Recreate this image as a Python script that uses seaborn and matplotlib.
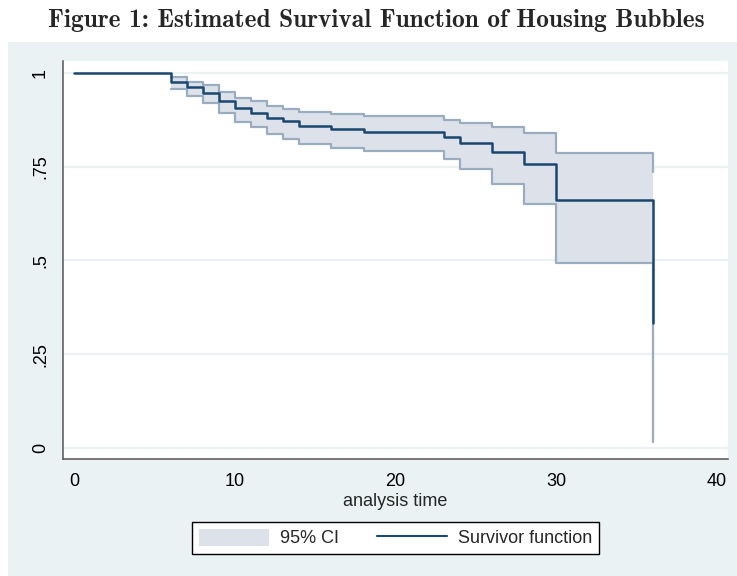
import matplotlib
matplotlib.use("Agg")
import matplotlib.pyplot as plt
import seaborn as sns
import pandas as pd
from matplotlib.patches import Rectangle, Patch
from matplotlib.lines import Line2D

# Kaplan-Meier survivor estimate (step function) and its 95% confidence band
times = [0, 6, 7, 8, 9, 10, 11, 12, 13, 14, 16, 18, 23, 24, 26, 28, 30, 36]
survival = [1.000, 0.975, 0.961, 0.947, 0.924, 0.905, 0.893, 0.879, 0.870,
            0.857, 0.850, 0.843, 0.829, 0.813, 0.789, 0.758, 0.662, 0.333]

ci_times = [6, 7, 8, 9, 10, 11, 12, 13, 14, 16, 18, 23, 24, 26, 28, 30, 36]
ci_upper = [0.988, 0.975, 0.966, 0.948, 0.932, 0.924, 0.911, 0.904, 0.895,
            0.890, 0.884, 0.875, 0.866, 0.854, 0.838, 0.787, 0.735]
ci_lower = [0.956, 0.938, 0.918, 0.893, 0.868, 0.854, 0.836, 0.824, 0.811,
            0.800, 0.791, 0.770, 0.743, 0.704, 0.649, 0.493, 0.016]

x_ticks = [0, 10, 20, 30, 40]
y_ticks = [0, 0.25, 0.5, 0.75, 1]
y_tick_labels = ["0", ".25", ".5", ".75", "1"]

title = "Figure 1: Estimated Survival Function of Housing Bubbles"
x_label = "analysis time"
legend_labels = ["95% CI", "Survivor function"]

sns.set_style("white")
plt.rcParams["font.family"] = ["Liberation Sans", "DejaVu Sans"]

NAVY = "#1a476f"
BAND = "#dde2ea"
BAND_EDGE = "#9aacbf"
GRAPH_BG = "#eaf2f3"
GRID = "#eaf2f3"

fig = plt.figure(figsize=(7.37, 5.76), dpi=100, facecolor="white")

# graph region background
fig.patches.append(Rectangle((8 / 737, 0), 1 - 8 / 737, (576 - 42) / 576,
                             transform=fig.transFigure, facecolor=GRAPH_BG,
                             edgecolor="none", zorder=-10))

ax = fig.add_axes([63 / 737, 1 - 459 / 576, (728 - 63) / 737, (459 - 61) / 576])
ax.set_facecolor("white")

surv_df = pd.DataFrame({"time": times, "survival": survival})
ci_df = pd.DataFrame({"time": ci_times, "upper": ci_upper, "lower": ci_lower})

# confidence band
ax.fill_between(ci_df["time"], ci_df["lower"], ci_df["upper"], step="post",
                facecolor=BAND, edgecolor="none", zorder=2)
sns.lineplot(data=ci_df, x="time", y="upper", ax=ax, drawstyle="steps-post",
             color=BAND_EDGE, linewidth=1.6, zorder=3, estimator=None)
sns.lineplot(data=ci_df, x="time", y="lower", ax=ax, drawstyle="steps-post",
             color=BAND_EDGE, linewidth=1.6, zorder=3, estimator=None)

# survivor function
sns.lineplot(data=surv_df, x="time", y="survival", ax=ax, drawstyle="steps-post",
             color=NAVY, linewidth=1.8, zorder=4, estimator=None)

ax.set_xlim(-0.70, 40.68)
ax.set_ylim(-0.029, 1.031)
ax.set_xticks(x_ticks)
ax.set_xticklabels([str(t) for t in x_ticks])
ax.set_yticks(y_ticks)
ax.set_yticklabels(y_tick_labels, rotation=90, va="center")

ax.grid(axis="y", color=GRID, linewidth=1.6, zorder=0)
ax.grid(axis="x", visible=False)
ax.set_axisbelow(True)

for side in ["top", "right"]:
    ax.spines[side].set_visible(False)
for side in ["left", "bottom"]:
    ax.spines[side].set_color("#555555")
    ax.spines[side].set_linewidth(1.1)

ax.tick_params(axis="both", which="major", length=6, width=1.1, color="#555555",
               labelsize=13, labelcolor="black", direction="out")
ax.tick_params(axis="y", pad=4)
ax.tick_params(axis="x", pad=4)

ax.set_xlabel(x_label, fontsize=13, labelpad=2)
ax.set_ylabel("")

fig.text(376 / 737, 1 - 21 / 576, title, ha="center", va="center",
         family="cmb10", fontsize=18.3)

handles = [Patch(facecolor=BAND, edgecolor="none"),
           Line2D([0], [0], color=NAVY, linewidth=1.5)]
leg = fig.legend(handles, legend_labels, loc="center",
                 bbox_to_anchor=(395.5 / 737, 1 - 538 / 576), ncol=2,
                 fontsize=13, frameon=True, fancybox=False, framealpha=1,
                 edgecolor="black", handlelength=3.9, handleheight=1.1,
                 handletextpad=0.6, columnspacing=2.1, borderpad=0.35)
leg.get_frame().set_linewidth(1.0)

fig.savefig("out.png", dpi=100, facecolor="white")
